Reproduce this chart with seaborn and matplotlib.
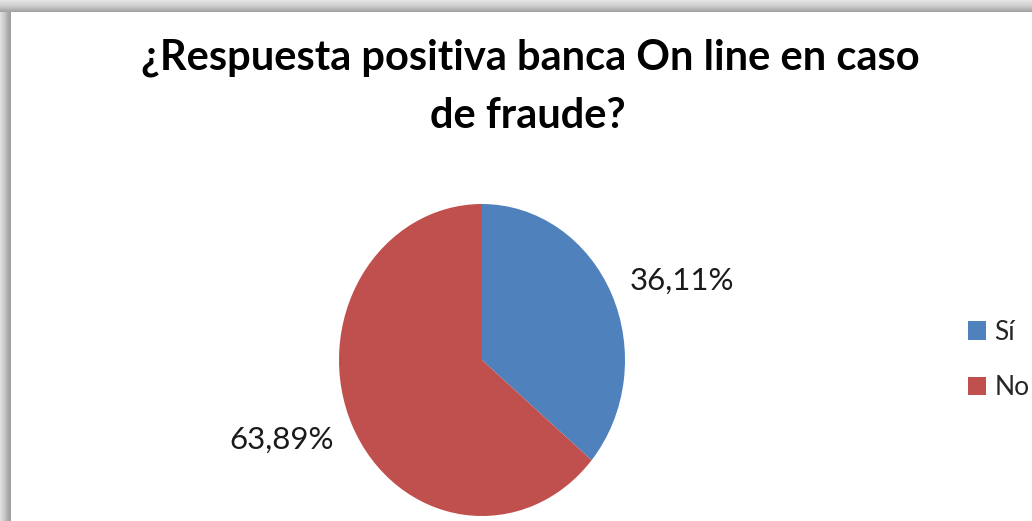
import matplotlib
matplotlib.use("Agg")
import matplotlib.pyplot as plt
from matplotlib.patches import Rectangle
import numpy as np
import seaborn as sns

# ---- data ----
title_text = "¿Respuesta positiva banca On line en caso\nde fraude?"
categories = ["Sí", "No"]
values = [36.11, 63.89]
colors_hex = ["#4F81BD", "#C0504D"]

sns.set_theme(style="white")
plt.rcParams["font.family"] = ["Lato", "DejaVu Sans"]

W, H = 1032, 521
fig = plt.figure(figsize=(W / 100, H / 100), dpi=100)
fig.patch.set_facecolor("white")

# shadowed frame (top and left bands)
grays_top = ["#e4e4e4", "#e0e0e0", "#dcdcdc", "#d8d8d8", "#d4d4d4", "#cfcfcf",
             "#c9c9c9", "#c2c2c2", "#bababa", "#b2b2b2", "#aaaaaa", "#a4a4a4"]
for i, g in enumerate(grays_top):
    fig.add_artist(Rectangle((0, 1 - (i + 1) / H), 1, 1 / H + 0.0005,
                             transform=fig.transFigure, facecolor=g,
                             edgecolor="none", zorder=0))
grays_left = ["#e0e0e0", "#dadada", "#d4d4d4", "#cecece", "#c8c8c8",
              "#c0c0c0", "#b8b8b8", "#b0b0b0", "#a8a8a8", "#a2a2a2"]
for i, g in enumerate(grays_left):
    fig.add_artist(Rectangle((i / W, 0), 1 / W + 0.0005, 1 - 12 / H,
                             transform=fig.transFigure, facecolor=g,
                             edgecolor="none", zorder=0))

# pie axes: centre at (482, 360) px, radii 143 (x) and 156 (y)
cx, cy, rx, ry = 482, 360, 143, 156
lim = 1.25
aw, ah = 2 * lim * rx, 2 * lim * ry
ax = fig.add_axes([(cx - aw / 2) / W, (H - cy - ah / 2) / H, aw / W, ah / H])

palette = sns.color_palette(colors_hex)
wedges, texts, autotexts = ax.pie(
    values, colors=palette, startangle=90, counterclock=False,
    autopct=lambda p: f"{p:.2f}%".replace(".", ","), pctdistance=1.47,
    wedgeprops=dict(edgecolor="none"),
    textprops=dict(fontsize=22.5, color="#1a1a1a"))
# place labels slightly clockwise of the wedge mid-angle (Excel-like)
for w, t in zip(wedges, autotexts):
    ang = np.deg2rad((w.theta1 + w.theta2) / 2 - 5)
    t.set_position((1.49 * np.cos(ang), 1.49 * np.sin(ang)))
ax.set_aspect("auto")
ax.set_xlim(-lim, lim)
ax.set_ylim(-lim, lim)
ax.axis("off")

# title
lines = title_text.split("\n")
fig.text(530 / W, 1 - 58 / H, lines[0], ha="center", va="center",
         fontsize=30, fontweight="bold", color="black")
fig.text(528 / W, 1 - 116 / H, lines[1], ha="center", va="center",
         fontsize=30, fontweight="bold", color="black")

# legend
leg = fig.legend(wedges, categories, loc="center left",
                 bbox_to_anchor=(968 / W, 1 - 360 / H), frameon=False,
                 fontsize=19, handlelength=0.7, handleheight=0.7,
                 handletextpad=0.3, labelspacing=1.15,
                 borderpad=0, borderaxespad=0)

fig.savefig("out.png", dpi=100)
